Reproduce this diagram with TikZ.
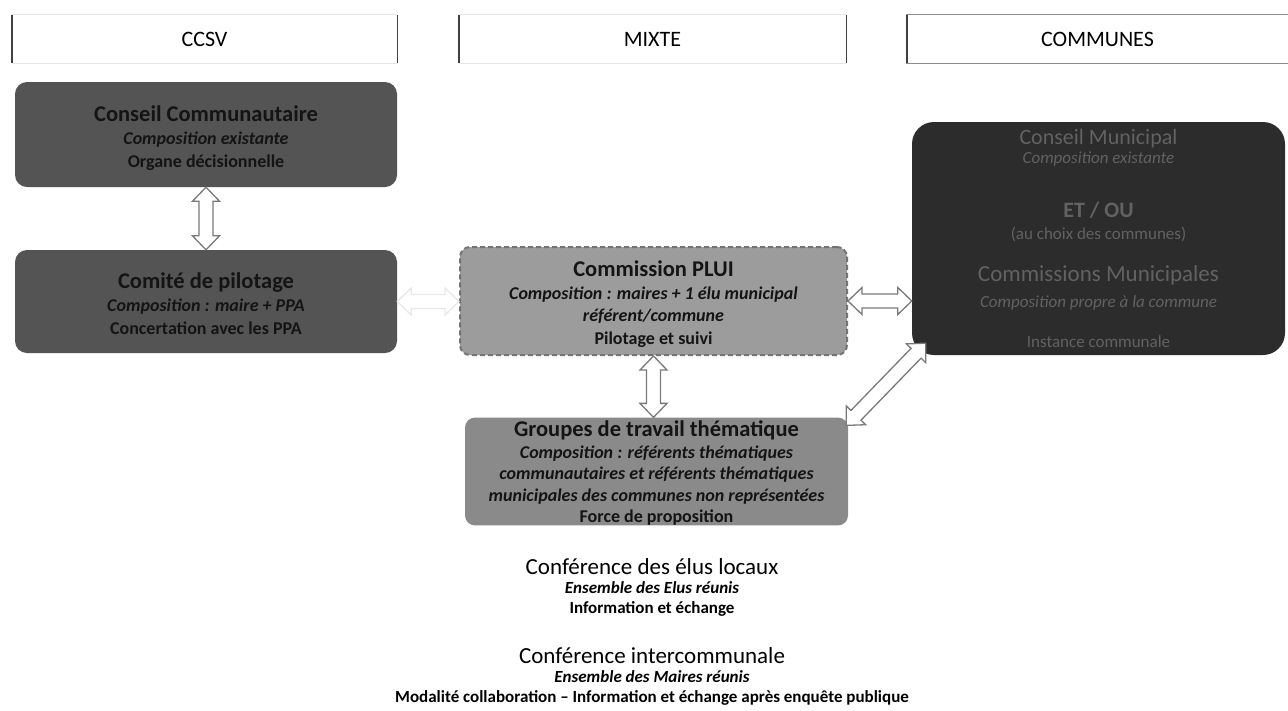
\documentclass[tikz,border=0pt]{standalone}
\usepackage{fontspec}
\setmainfont{Carlito}
\usepackage{xcolor}
\usepackage{tikz}
\usetikzlibrary{calc,positioning}
\definecolor{cccol}{HTML}{545454}
\definecolor{pluicol}{HTML}{9C9C9C}
\definecolor{grpcol}{HTML}{8A8A8A}
\definecolor{cmcol}{HTML}{2C2C2C}
\definecolor{txtc}{HTML}{141414}
\definecolor{cmtxt}{HTML}{626262}
\definecolor{arc}{HTML}{7A7A7A}
\tikzset{
  hdr/.style={minimum height=48pt,inner sep=0pt,font=\fontsize{22}{26}\selectfont},
  bar/.style={line width=1.4pt,black!75},
  rim/.style={line width=0.8pt,black!10},
  bx/.style={rounded corners=12pt,inner sep=0pt,align=center,text=txtc,font=\fontsize{18}{23}\selectfont},
  ar/.style={draw=arc,line width=1.3pt,fill=white,line join=miter},
  txt/.style={align=center,inner sep=0pt,text=black,font=\fontsize{17}{19.5}\selectfont}
}
\newcommand{\ttl}[1]{{\fontsize{22.5}{23}\selectfont\bfseries #1}}
\newcommand{\itl}[1]{{\bfseries\itshape #1}}
% hollow double arrow between two points
\newcommand{\dblar}[3][]{%
  \path (#2) coordinate (da) (#3) coordinate (db);
  \path ($(da)!14pt!(db)$) coordinate (ha) ($(db)!14pt!(da)$) coordinate (hb);
  \draw[ar,#1] (da) -- ($(ha)!13.5pt!90:(db)$) -- ($(ha)!7pt!90:(db)$)
    -- ($(hb)!7pt!-90:(da)$) -- ($(hb)!13.5pt!-90:(da)$) -- (db)
    -- ($(hb)!13.5pt!90:(da)$) -- ($(hb)!7pt!90:(da)$)
    -- ($(ha)!7pt!-90:(db)$) -- ($(ha)!13.5pt!-90:(db)$) -- cycle;}

\begin{document}
\begin{tikzpicture}[x=1pt,y=-1pt]
\fill[white] (0,0) rectangle (1288,710);
\useasboundingbox (0,0) rectangle (1288,710);
% headers
\node[hdr,minimum width=385pt] (ccsv) at (204.5,39) {CCSV};
\node[hdr,minimum width=387pt] (mixte) at (652.5,39) {MIXTE};
\node[hdr,minimum width=381pt] (communes) at (1097.5,39) {COMMUNES};
\draw[rim] (ccsv.north west) -- (ccsv.north east) (ccsv.south west) -- (ccsv.south east);
\draw[rim] (mixte.north west) -- (mixte.north east) (mixte.south west) -- (mixte.south east);
\draw[bar] (ccsv.north west) -- (ccsv.south west);
\draw[bar] (ccsv.north east) -- (ccsv.south east);
\draw[bar] (mixte.north west) -- (mixte.south west);
\draw[bar] (mixte.north east) -- (mixte.south east);
\draw[line width=0.8pt,black!45] (communes.north east) -- (communes.north west) -- (communes.south west) -- (communes.south east);
\draw[bar] (communes.north west) -- (communes.south west);
% CCSV
\node[bx,fill=cccol,minimum width=382pt,minimum height=105pt] (cc) at (206,134.5)
  {\rule{0pt}{24pt}\ttl{Conseil Communautaire}\\ \itl{Composition existante}\\ \textbf{Organe décisionnelle}};
\node[bx,fill=cccol,minimum width=382pt,minimum height=103pt] (copil) at (206,301.5)
  {\rule{0pt}{20pt}\ttl{Comité de pilotage}\\ \itl{Composition : maire + PPA}\\ \textbf{Concertation avec les PPA}};
% mixte
\node[bx,fill=pluicol,draw=black!55,line width=2pt,dash pattern=on 5pt off 3pt,rounded corners=10pt,
  minimum width=387pt,minimum height=108pt,font=\fontsize{18}{22.5}\selectfont] (plui) at (653.5,301)
  {\rule{0pt}{22pt}\ttl{Commission PLUI}\\ \itl{Composition : maires + 1 élu municipal}\\ \itl{référent/commune}\\ \textbf{Pilotage et suivi}};
\node[bx,fill=grpcol,rounded corners=10pt,minimum width=383pt,minimum height=103pt,
  font=\fontsize{18}{21.5}\selectfont] (grp) at (656.5,471.5)
  {\rule{0pt}{19pt}\ttl{Groupes de travail thématique}\\ \itl{Composition : référents thématiques}\\
   \itl{communautaires et référents thématiques}\\ \itl{municipales des communes non représentées}\\
   \textbf{Force de proposition}};
% communes
\node[bx,fill=cmcol,text=cmtxt,rounded corners=22pt,minimum width=373pt,minimum height=233pt,
  font=\fontsize{17}{19}\selectfont] (cm) at (1098.5,238.5)
  {{\fontsize{22}{22}\selectfont Conseil Municipal}\\ \textit{Composition existante}\\[35pt]
   {\fontsize{22}{22}\selectfont\bfseries ET / OU}\\[3pt] (au choix des communes)\\[23pt]
   {\fontsize{23}{23}\selectfont Commissions Municipales}\\[7pt] \textit{Composition propre à la commune}\\[21pt]
   Instance communale};
% conferences
\node[txt] (conf1) at (652,587)
  {{\fontsize{23}{23}\selectfont Conférence des élus locaux}\\ \itl{Ensemble des Elus réunis}\\ \textbf{Information et échange}};
\node[txt] (conf2) at (652,676)
  {{\fontsize{23}{23}\selectfont Conférence intercommunale}\\ \itl{Ensemble des Maires réunis}\\
   \textbf{Modalité collaboration – Information et échange après enquête publique}};
% arrows
\coordinate (grpend) at ($(grp.north east)+(-2,8)$);
\coordinate (cmend) at ($(cm.south west)+(14,-12)$);
\dblar{cc.south}{copil.north}
\dblar[draw=black!9]{copil.east}{copil.east -| plui.west}
\dblar{plui.south}{plui.south |- grp.north}
\dblar{plui.east}{plui.east -| cm.west}
\dblar{grpend}{cmend}
\end{tikzpicture}
\end{document}
